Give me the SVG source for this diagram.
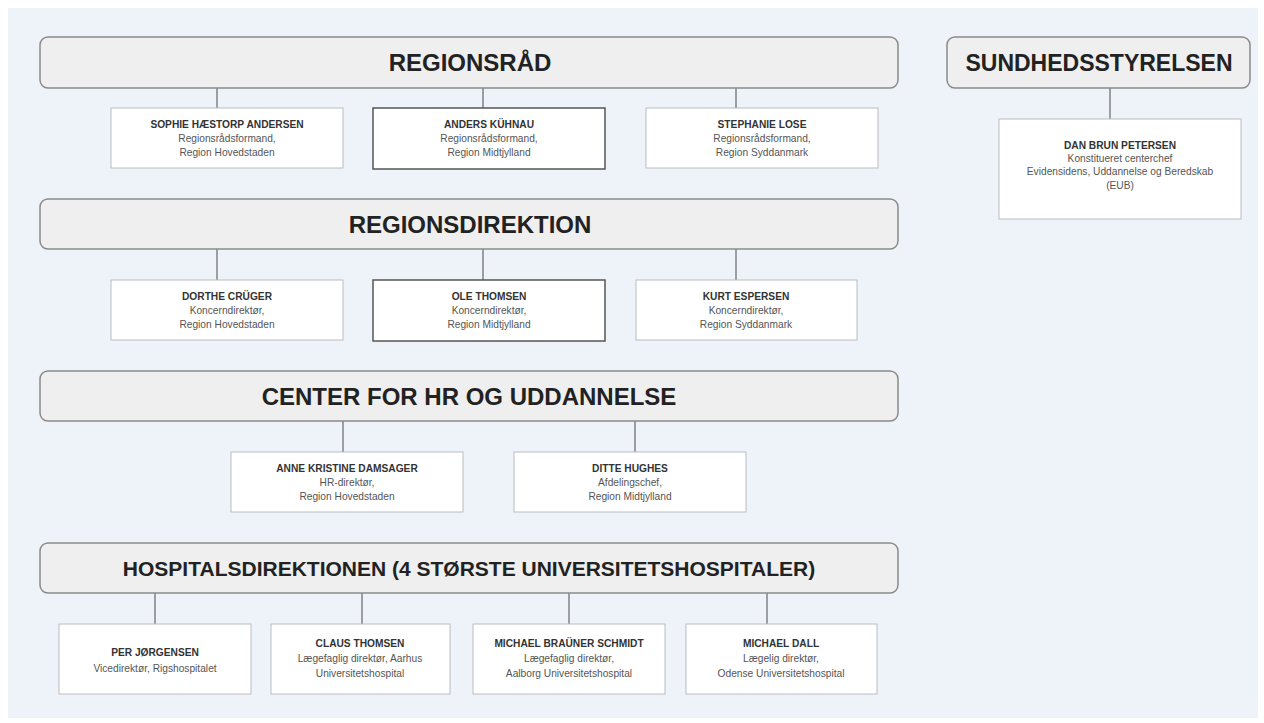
<svg xmlns="http://www.w3.org/2000/svg" width="1264" height="723" viewBox="0 0 1264 723">
<style>
.hdr{fill:#efefef;stroke:#8a8a8a;stroke-width:1.5}
.ht{font-family:"Liberation Sans",Arial,sans-serif;font-weight:bold;font-size:24px;fill:#222;text-anchor:middle}
.box{fill:#fff;stroke:#b9bcc2;stroke-width:1}
.boxd{fill:#fff;stroke:#555;stroke-width:1.5}
.nm{font-family:"Liberation Sans",Arial,sans-serif;font-weight:bold;font-size:10.2px;fill:#333;text-anchor:middle}
.rl{font-family:"Liberation Sans",Arial,sans-serif;font-size:10.2px;fill:#555;text-anchor:middle}
.con line{stroke:#666;stroke-width:1.2}
</style>
<rect x="0" y="0" width="1264" height="723" fill="#fff"/>
<rect x="8" y="8" width="1250" height="710" fill="#eef2f9"/>
<g class="con">
<line x1="217" y1="88" x2="217" y2="108"/>
<line x1="483" y1="88" x2="483" y2="108"/>
<line x1="736" y1="88" x2="736" y2="108"/>
<line x1="1110" y1="88" x2="1110" y2="119"/>
<line x1="217" y1="249" x2="217" y2="280"/>
<line x1="483" y1="249" x2="483" y2="280"/>
<line x1="736" y1="249" x2="736" y2="280"/>
<line x1="343" y1="421" x2="343" y2="452"/>
<line x1="635" y1="421" x2="635" y2="452"/>
<line x1="155" y1="593" x2="155" y2="624"/>
<line x1="362" y1="593" x2="362" y2="624"/>
<line x1="569" y1="593" x2="569" y2="624"/>
<line x1="767" y1="593" x2="767" y2="624"/>
</g>
<g id="regionsraad"><rect class="hdr" x="40" y="37" width="858" height="51" rx="8"/><text class="ht" x="470" y="71">REGIONSRÅD</text></g>
<g id="sundhedsstyrelsen"><rect class="hdr" x="947" y="37" width="303" height="51" rx="8"/><text class="ht" x="1099" y="71" style="font-size:23px">SUNDHEDSSTYRELSEN</text></g>
<g id="sophie"><rect class="box" x="111" y="108" width="232" height="60"/><text class="nm" x="227" y="128">SOPHIE HÆSTORP ANDERSEN</text><text class="rl" x="227" y="142">Regionsrådsformand,</text><text class="rl" x="227" y="156">Region Hovedstaden</text></g>
<g id="anders"><rect class="boxd" x="373" y="108" width="232" height="61"/><text class="nm" x="489" y="128">ANDERS KÜHNAU</text><text class="rl" x="489" y="142">Regionsrådsformand,</text><text class="rl" x="489" y="156">Region Midtjylland</text></g>
<g id="stephanie"><rect class="box" x="646" y="108" width="232" height="60"/><text class="nm" x="762" y="128">STEPHANIE LOSE</text><text class="rl" x="762" y="142">Regionsrådsformand,</text><text class="rl" x="762" y="156">Region Syddanmark</text></g>
<g id="dan"><rect class="box" x="999" y="119" width="242" height="100"/><text class="nm" x="1120" y="149">DAN BRUN PETERSEN</text><text class="rl" x="1120" y="162">Konstitueret centerchef</text><text class="rl" x="1120" y="175">Evidensidens, Uddannelse og Beredskab</text><text class="rl" x="1120" y="189">(EUB)</text></g>
<g id="regionsdirektion"><rect class="hdr" x="40" y="199" width="858" height="50" rx="8"/><text class="ht" x="470" y="233">REGIONSDIREKTION</text></g>
<g id="dorthe"><rect class="box" x="111" y="280" width="232" height="60"/><text class="nm" x="227" y="300">DORTHE CRÜGER</text><text class="rl" x="227" y="314">Koncerndirektør,</text><text class="rl" x="227" y="328">Region Hovedstaden</text></g>
<g id="ole"><rect class="boxd" x="373" y="280" width="232" height="61"/><text class="nm" x="489" y="300">OLE THOMSEN</text><text class="rl" x="489" y="314">Koncerndirektør,</text><text class="rl" x="489" y="328">Region Midtjylland</text></g>
<g id="kurt"><rect class="box" x="636" y="280" width="221" height="60"/><text class="nm" x="746" y="300">KURT ESPERSEN</text><text class="rl" x="746" y="314">Koncerndirektør,</text><text class="rl" x="746" y="328">Region Syddanmark</text></g>
<g id="center"><rect class="hdr" x="40" y="371" width="858" height="50" rx="8"/><text class="ht" x="469" y="405">CENTER FOR HR OG UDDANNELSE</text></g>
<g id="anne"><rect class="box" x="231" y="452" width="232" height="60"/><text class="nm" x="347" y="472">ANNE KRISTINE DAMSAGER</text><text class="rl" x="347" y="486">HR-direktør,</text><text class="rl" x="347" y="500">Region Hovedstaden</text></g>
<g id="ditte"><rect class="box" x="514" y="452" width="232" height="60"/><text class="nm" x="630" y="472">DITTE HUGHES</text><text class="rl" x="630" y="486">Afdelingschef,</text><text class="rl" x="630" y="500">Region Midtjylland</text></g>
<g id="hospitals"><rect class="hdr" x="40" y="543" width="858" height="50" rx="8"/><text class="ht" x="469" y="576" style="font-size:21px">HOSPITALSDIREKTIONEN (4 STØRSTE UNIVERSITETSHOSPITALER)</text></g>
<g id="per"><rect class="box" x="59" y="624" width="192" height="70"/><text class="nm" x="155" y="656">PER JØRGENSEN</text><text class="rl" x="155" y="672">Vicedirektør, Rigshospitalet</text></g>
<g id="claus"><rect class="box" x="271" y="624" width="179" height="70"/><text class="nm" x="360" y="647">CLAUS THOMSEN</text><text class="rl" x="360" y="662">Lægefaglig direktør, Aarhus</text><text class="rl" x="360" y="677">Universitetshospital</text></g>
<g id="braunerschmidt"><rect class="box" x="473" y="624" width="192" height="70"/><text class="nm" x="569" y="647">MICHAEL BRAÜNER SCHMIDT</text><text class="rl" x="569" y="662">Lægefaglig direktør,</text><text class="rl" x="569" y="677">Aalborg Universitetshospital</text></g>
<g id="dall"><rect class="box" x="686" y="624" width="191" height="70"/><text class="nm" x="781" y="647">MICHAEL DALL</text><text class="rl" x="781" y="662">Lægelig direktør,</text><text class="rl" x="781" y="677">Odense Universitetshospital</text></g>
</svg>
